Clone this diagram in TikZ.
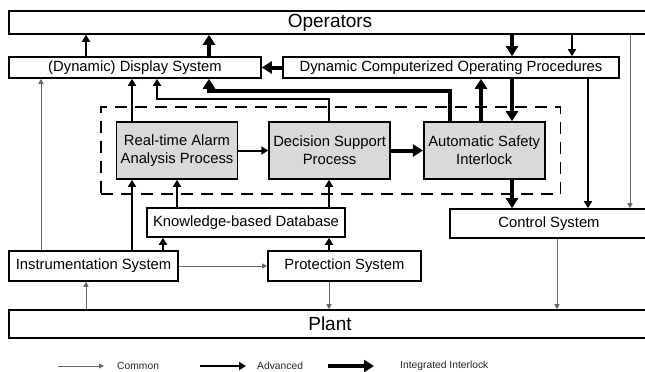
\documentclass[tikz,border=0pt]{standalone}
\usepackage{fontspec}
\setmainfont{Liberation Sans}
\usepackage{tikz}
\usetikzlibrary{arrows.meta,positioning,fit}

\newcommand{\boxfont}{\fontsize{14.8bp}{18bp}\selectfont}
\newcommand{\bigfont}{\fontsize{19bp}{22bp}\selectfont}
\newcommand{\keyfont}{\fontsize{10.3bp}{12bp}\selectfont}

\begin{document}
\begin{tikzpicture}[
    x=1bp, y=-1bp,
    box/.style={rectangle, draw, line width=1.6bp, inner sep=0pt, minimum height=21bp, align=center, font=\boxfont},
    proc/.style={box, fill=gray!30, minimum width=121bp, minimum height=57bp},
    group/.style={draw, line width=1.6bp, dash pattern=on 12bp off 8bp, inner xsep=15bp, inner ysep=14bp},
    key/.style={inner sep=0pt, font=\keyfont, text=black!85},
    common/.style={-{Triangle[length=5bp, width=5bp]}, line width=0.9bp, black!60},
    advanced/.style={-{Triangle[length=7bp, width=8bp]}, line width=2bp},
    interlock/.style={-{Triangle[length=10bp, width=12bp]}, line width=4bp}
]
    \useasboundingbox (0,0) rectangle (645,371);
    \clip (0,0) rectangle (645,371);

    % outer layers
    \node[box, minimum width=642bp, minimum height=23bp, font=\bigfont] (ops) at (330,22.5) {Operators};
    \node[box, minimum width=642bp, minimum height=28bp, font=\bigfont] (plant) at (330,324) {Plant};

    \node[box, minimum width=252bp] (disp) at (135,67.5) {(Dynamic) Display System};
    \node[box, minimum width=336bp] (dcop) at (451,67.5) {Dynamic Computerized Operating Procedures};

    % advanced functions
    \node[proc] (rta) at (177,150.5) {Real-time Alarm\\Analysis Process};
    \node[proc, right=30bp of rta] (dsp) {Decision Support\\Process};
    \node[proc, right=32bp of dsp] (asi) {Automatic Safety\\Interlock};
    \node[group, fit=(rta)(dsp)(asi)] (core) {};

    \node[box, minimum width=198bp, minimum height=29bp] (kdb) at (246,222.5) {Knowledge-based Database};
    \node[box, minimum width=198bp, minimum height=29bp] (ctrl) at (549,223.5) {Control System};
    \node[box, minimum width=169bp, minimum height=30bp] (instr) at (93.5,266) {Instrumentation System};
    \node[box, minimum width=153bp, minimum height=30bp] (prot) at (344.5,266) {Protection System};

    % columns for the vertical links
    \foreach \c/\x in {a/41, b/86, c/132, d/157, e/163, f/177, g/209, h/329,
                       i/450, j/481, k/512, l/557, m/572, n/588, o/630}
        \coordinate (x\c) at (\x,0);

    \draw[advanced] (disp.north -| xb) -- (ops.south -| xb);
    \draw[interlock] (disp.north -| xg) -- (ops.south -| xg);
    \draw[interlock] (ops.south -| xk) -- (dcop.north -| xk);
    \draw[advanced] (ops.south -| xm) -- (dcop.north -| xm);
    \draw[common] (ops.south -| xo) -- (ctrl.north -| xo);
    \draw[interlock] (dcop.west) -- (disp.east);
    \draw[advanced] (dcop.south -| xn) -- (ctrl.north -| xn);
    \draw[interlock] (dcop.south -| xk) -- (asi.north -| xk);
    \draw[interlock] (asi.north -| xj) -- (dcop.south -| xj);
    \draw[interlock] (asi.north -| xi) -- ++(0,-30) -| (disp.south -| xg);
    \draw[advanced] (dsp.north -| xh) -- ++(0,-22) -| (disp.south -| xd);
    \draw[advanced] (rta.north -| xc) -- (disp.south -| xc);
    \draw[common] (instr.north -| xa) -- (disp.south -| xa);

    \draw[advanced] (rta) -- (dsp);
    \draw[interlock] (dsp) -- (asi);
    \draw[interlock] (asi.south -| xk) -- (ctrl.north -| xk);

    \draw[advanced] (instr.north -| xc) -- (rta.south -| xc);
    \draw[advanced] (instr.north -| xe) -- (kdb.south -| xe);
    \draw[advanced] (kdb.north -| xf) -- (rta.south -| xf);
    \draw[advanced] (kdb.north -| xh) -- (dsp.south -| xh);
    \draw[advanced] (prot.north -| xh) -- (kdb.south -| xh);
    \draw[common] (instr) -- (prot);
    \draw[common] (prot.south -| xh) -- (plant.north -| xh);
    \draw[common] (ctrl.south -| xl) -- (plant.north -| xl);
    \draw[common] (plant.north -| xb) -- (instr.south -| xb);

    % legend
    \foreach \s/\x/\tx/\txt in {common/58/117/Common, advanced/200/257/Advanced,
                                interlock/328/400/Integrated Interlock} {
        \coordinate (tail-\s) at (\x,366);
        \node[key, anchor=west] (key-\s) at (\tx,366) {\txt};
        \draw[\s] (tail-\s) -- ++(46,0);
    }
\end{tikzpicture}
\end{document}
